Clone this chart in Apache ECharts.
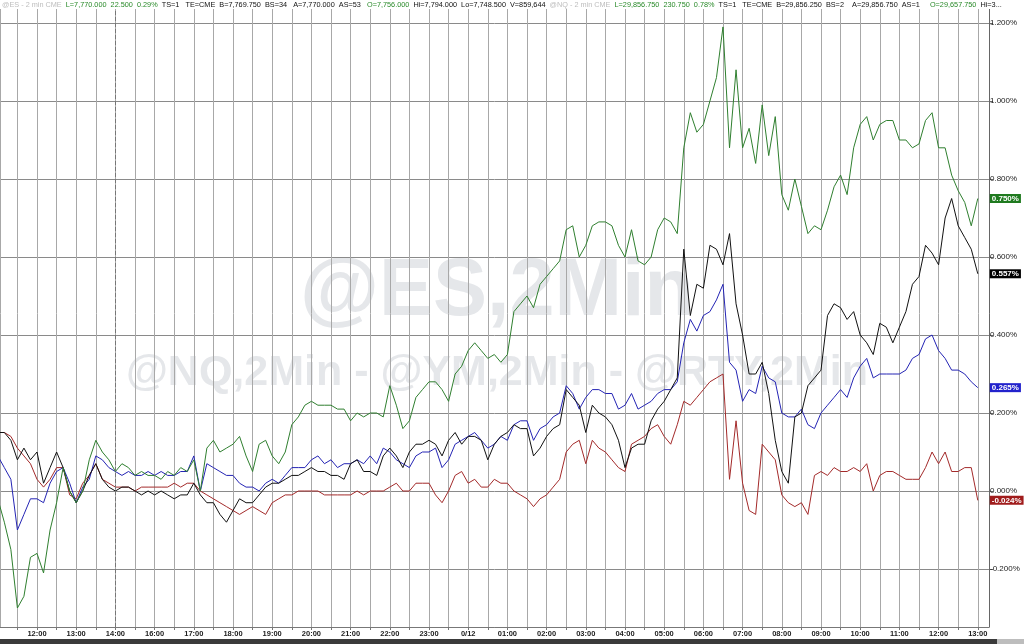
<!DOCTYPE html>
<html><head><meta charset="utf-8">
<script src="https://cdn.jsdelivr.net/npm/echarts@6/dist/echarts.min.js"></script>
<style>html,body{margin:0;padding:0;background:#fff}#c{width:1024px;height:644px}</style>
</head><body><div id="c"></div>
<script>
// Hour labels of the session axis (one unit per labelled hour; 11:00 = 0)
const hourLabels = ['12:00','13:00','14:00','16:00','17:00','18:00','19:00','20:00','21:00','22:00','23:00','0/12',
  '01:00','02:00','03:00','04:00','05:00','06:00','07:00','08:00','09:00','10:00','11:00','12:00','13:00'];
const samplesPerHour = 6;   // 10-minute samples starting at 11:00
const sessionBreakHour = 3; // dashed marker at 14:00

// % change series
const nqValues = [-0.02,-0.08,-0.15,-0.30,-0.27,-0.17,-0.16,-0.21,-0.10,-0.03,
 0.06,0.00,-0.03,0.00,0.08,0.13,0.10,0.08,0.05,0.07,
 0.06,0.04,0.05,0.04,0.04,0.03,0.05,0.04,0.06,0.05,
 0.08,0.00,0.11,0.13,0.10,0.11,0.12,0.14,0.09,0.05,
 0.12,0.13,0.09,0.07,0.10,0.17,0.19,0.22,0.23,0.22,
 0.22,0.22,0.21,0.21,0.18,0.20,0.19,0.20,0.20,0.19,
 0.27,0.22,0.16,0.18,0.24,0.26,0.28,0.28,0.26,0.23,
 0.30,0.32,0.36,0.38,0.36,0.34,0.35,0.33,0.35,0.46,
 0.48,0.50,0.47,0.53,0.55,0.57,0.59,0.67,0.68,0.60,
 0.63,0.68,0.69,0.69,0.68,0.63,0.60,0.67,0.59,0.58,
 0.60,0.67,0.70,0.69,0.66,0.88,0.97,0.92,0.94,1.00,
 1.06,1.19,0.88,1.08,0.88,0.93,0.84,0.99,0.86,0.96,
 0.76,0.72,0.80,0.73,0.66,0.68,0.67,0.72,0.78,0.81,
 0.76,0.88,0.94,0.96,0.90,0.94,0.95,0.95,0.90,0.90,
 0.88,0.89,0.95,0.97,0.88,0.88,0.81,0.77,0.74,0.68,
 0.750];
const rtyValues = [0.15,0.15,0.13,0.08,0.11,0.08,0.10,0.02,0.06,0.10,
 0.06,0.00,-0.03,0.00,0.04,0.07,0.03,0.01,0.00,0.01,
 0.01,0.00,-0.01,0.00,-0.01,0.00,-0.01,-0.02,-0.01,-0.01,
 0.02,-0.01,-0.03,-0.03,-0.06,-0.08,-0.05,-0.02,-0.03,-0.03,
 -0.01,0.01,0.02,0.02,0.03,0.04,0.04,0.05,0.06,0.05,
 0.05,0.04,0.04,0.03,0.07,0.08,0.05,0.05,0.04,0.09,
 0.11,0.09,0.06,0.10,0.12,0.12,0.13,0.12,0.09,0.13,
 0.15,0.12,0.14,0.14,0.13,0.08,0.12,0.14,0.15,0.17,
 0.16,0.16,0.09,0.11,0.14,0.16,0.17,0.26,0.24,0.22,
 0.15,0.22,0.20,0.19,0.17,0.13,0.06,0.11,0.12,0.12,
 0.18,0.21,0.23,0.26,0.29,0.62,0.45,0.53,0.52,0.63,
 0.62,0.58,0.66,0.48,0.40,0.30,0.30,0.33,0.25,0.13,
 0.05,0.02,0.19,0.20,0.27,0.29,0.31,0.45,0.48,0.47,
 0.44,0.46,0.40,0.38,0.35,0.43,0.42,0.38,0.42,0.46,
 0.53,0.55,0.63,0.61,0.58,0.70,0.75,0.68,0.65,0.62,
 0.557];
const esValues = [0.09,0.06,0.03,-0.10,-0.06,-0.02,-0.02,-0.03,0.02,0.05,
 0.06,0.02,-0.03,0.01,0.03,0.09,0.08,0.06,0.05,0.04,
 0.05,0.04,0.04,0.05,0.04,0.05,0.04,0.04,0.05,0.05,
 0.09,0.00,0.07,0.06,0.05,0.04,0.04,0.02,0.01,0.01,
 0.00,0.02,0.03,0.02,0.04,0.06,0.06,0.06,0.08,0.09,
 0.07,0.08,0.06,0.07,0.07,0.08,0.07,0.09,0.07,0.11,
 0.10,0.08,0.07,0.06,0.09,0.10,0.10,0.11,0.06,0.08,
 0.12,0.13,0.14,0.15,0.13,0.11,0.12,0.14,0.13,0.17,
 0.18,0.18,0.13,0.16,0.17,0.19,0.20,0.27,0.25,0.21,
 0.24,0.26,0.26,0.25,0.25,0.21,0.22,0.25,0.21,0.22,
 0.23,0.25,0.26,0.26,0.28,0.38,0.44,0.41,0.45,0.46,
 0.49,0.53,0.33,0.31,0.23,0.26,0.25,0.32,0.29,0.28,
 0.20,0.19,0.19,0.21,0.17,0.16,0.20,0.22,0.24,0.26,
 0.24,0.29,0.32,0.34,0.29,0.30,0.30,0.30,0.30,0.31,
 0.34,0.35,0.39,0.40,0.36,0.34,0.31,0.31,0.30,0.28,
 0.265];
const ymValues = [0.15,0.15,0.14,0.11,0.09,0.07,0.03,0.01,0.03,0.06,
 0.06,-0.01,-0.02,0.02,0.04,0.07,0.03,0.02,0.01,0.01,
 0.01,0.00,0.01,0.01,0.01,0.01,0.01,0.02,0.01,0.02,
 0.02,0.00,-0.01,-0.02,-0.03,-0.04,-0.05,-0.06,-0.05,-0.04,
 -0.05,-0.06,-0.03,-0.02,-0.01,-0.01,0.00,0.00,0.00,0.00,
 -0.01,-0.01,-0.01,-0.01,-0.01,0.00,-0.01,0.00,0.00,0.00,
 0.01,0.02,0.00,0.00,0.02,0.02,0.02,-0.01,-0.03,0.00,
 0.04,0.05,0.02,0.03,0.01,0.01,0.03,0.02,0.02,0.00,
 -0.01,-0.02,-0.04,-0.02,-0.01,0.01,0.03,0.10,0.12,0.13,
 0.07,0.13,0.11,0.10,0.08,0.06,0.05,0.12,0.13,0.14,
 0.16,0.17,0.14,0.12,0.17,0.23,0.22,0.24,0.26,0.28,
 0.29,0.30,0.03,0.18,0.02,-0.05,-0.06,0.12,0.10,0.08,
 -0.01,-0.03,-0.04,-0.03,-0.06,0.04,0.05,0.04,0.06,0.05,
 0.05,0.06,0.05,0.07,0.00,0.04,0.05,0.05,0.04,0.03,
 0.03,0.03,0.06,0.10,0.07,0.10,0.05,0.05,0.06,0.06,
 -0.024];

const seriesNames = ['@YM','@ES','@RTY','@NQ'];
const seriesColors = ['#a32a2a','#2424b4','#111111','#2f7f2f'];
const labelColors = ['#a01c1c','#2222cc','#000000','#1f7a1f'];
const seriesValues = [ymValues, esValues, rtyValues, nqValues];

const headerText = '{m|@ES - 2 min CME}  {g|L=7,770.000  22.500  0.29%}  {k|TS=1   TE=CME  B=7,769.750  BS=34   A=7,770.000  AS=53}   {g|O=7,756.000}  {k|Hi=7,794.000  Lo=7,748.500  V=859,644}  {m|@NQ - 2 min CME}  {g|L=29,856.750  230.750  0.78%}  {k|TS=1   TE=CME  B=29,856.250  BS=2    A=29,856.750  AS=1}     {g|O=29,657.750}  {k|Hi=3...}';

const FONT = '"Liberation Sans", Arial, sans-serif';
const pct = v => v.toFixed(3) + '%';
const onStep = (v, s) => Math.abs(v / s - Math.round(v / s)) < 1e-6;

const chart = echarts.init(document.getElementById('c'), null, {renderer: 'canvas'});
chart.setOption({
  animation: false,
  backgroundColor: '#fff',
  textStyle: {fontFamily: FONT},
  title: {
    text: headerText, left: 0, top: 0, padding: [1, 2, 1, 2], backgroundColor: '#fff',
    textStyle: {fontSize: 7.3, fontWeight: 'normal', fontFamily: FONT, color: '#111',
      rich: {
        m: {color: '#bdbdbd', fontSize: 7.3, fontFamily: FONT},
        g: {color: '#2a8a2a', fontSize: 7.3, fontFamily: FONT},
        k: {color: '#111', fontSize: 7.3, fontFamily: FONT}
      }}
  },
  graphic: [
    {type: 'text', z: -10, silent: true, x: 497, y: 293,
      style: {text: '@ES,2Min', fill: '#e5e7ea', font: 'bold 81px ' + FONT, align: 'center', verticalAlign: 'middle'}},
    {type: 'text', z: -10, silent: true, x: 497, y: 373,
      style: {text: '@NQ,2Min - @YM,2Min - @RTY,2Min', fill: '#e5e7ea', font: 'bold 43px ' + FONT, align: 'center', verticalAlign: 'middle'}},
    {type: 'rect', silent: true, shape: {x: 0, y: 639, width: 1024, height: 5}, style: {fill: '#3a3a3a'}},
    {type: 'rect', silent: true, shape: {x: 997, y: 639, width: 27, height: 5}, style: {fill: '#bdbdbd'}}
  ],
  grid: {left: 0, right: 35, top: 0, bottom: 17, containLabel: false, outerBoundsMode: 'none'},
  xAxis: {
    type: 'value', min: 0.0561, max: 25.286, minInterval: 0.5, maxInterval: 0.5, splitNumber: 50,
    axisLine: {show: true, onZero: false, lineStyle: {color: '#777'}},
    axisTick: {show: true, length: 3, lineStyle: {color: '#777'}},
    axisLabel: {fontSize: 7.5, fontWeight: 'bold', color: '#222', margin: 3, fontFamily: FONT, showMinLabel: false, showMaxLabel: false,
      formatter: v => { const k = Math.round(v); return onStep(v, 1) && k >= 1 && k <= hourLabels.length ? hourLabels[k - 1] : ''; }},
    splitLine: {show: true, lineStyle: {color: '#a8a8a8', width: 1}}
  },
  yAxis: {
    type: 'value', position: 'right', min: -0.3487, max: 1.259, minInterval: 0.2, maxInterval: 0.2, splitNumber: 8,
    axisLine: {show: true, lineStyle: {color: '#666'}},
    axisTick: {show: true, length: 4, lineStyle: {color: '#666'}},
    axisLabel: {fontSize: 8, color: '#222', margin: 1, fontFamily: FONT, showMinLabel: false, showMaxLabel: false,
      formatter: v => onStep(v, 0.2) ? pct(v) : ''},
    splitLine: {show: true, lineStyle: {color: '#8a8a8a', width: 1}}
  },
  series: seriesValues.map((vals, s) => ({
    name: seriesNames[s], type: 'line', symbol: 'none', clip: true,
    data: vals.map((v, i) => [i / samplesPerHour, v]),
    lineStyle: {color: seriesColors[s], width: 1},
    itemStyle: {color: seriesColors[s]},
    endLabel: {show: true, distance: 12, formatter: p => pct(p.value[1]), color: '#fff',
      backgroundColor: labelColors[s], padding: [1, 2, 0, 2], fontSize: 8, fontWeight: 'bold', fontFamily: FONT},
    markLine: s === 0 ? {silent: true, symbol: ['none', 'none'], label: {show: false},
      lineStyle: {type: 'dashed', color: '#777', width: 1}, data: [{xAxis: sessionBreakHour}]} : undefined
  }))
});
</script></body></html>
